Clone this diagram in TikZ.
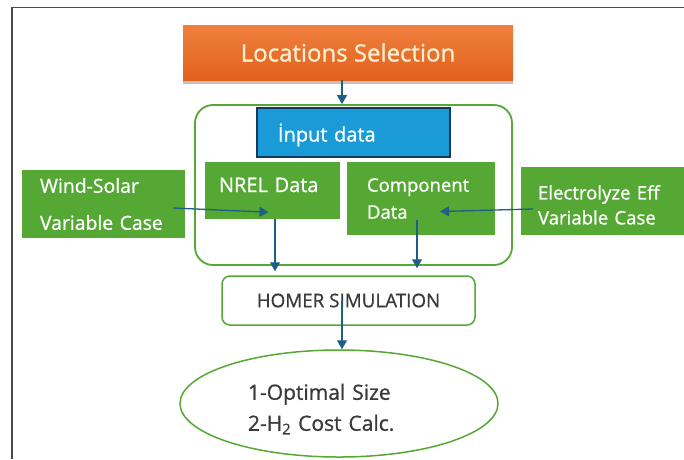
\documentclass[tikz,border=0pt]{standalone}
\usepackage{fontspec}
\setmainfont{Open Sans}[FakeBold=0.9]
\usetikzlibrary{arrows.meta,positioning,shapes.geometric,shadows}
\definecolor{loctop}{HTML}{F0803E}
\definecolor{locbot}{HTML}{E1611D}
\definecolor{loctext}{HTML}{FFF0D2}
\definecolor{inpcol}{HTML}{1A9BD7}
\definecolor{inpline}{HTML}{123A5A}
\definecolor{grcol}{HTML}{55A834}
\definecolor{arrcol}{HTML}{1F5F86}
\definecolor{txtcol}{HTML}{3A3A3A}
\definecolor{framecol}{HTML}{4A4A4A}

\begin{document}
\begin{tikzpicture}[
  x=1pt, y=-1pt,
  >={Triangle[width=10pt,length=9pt]},
  box/.style={rectangle, inner sep=0pt, align=left},
  gbox/.style={box, fill=grcol, text=white},
  arr/.style={->, line width=1.3pt, draw=arrcol}
]
\useasboundingbox (0,0) rectangle (684,459);
\draw[framecol, line width=1.5pt] (12,459) -- (12,7.5) -- (684,7.5);

\node[box, align=center, minimum width=330pt, minimum height=55pt,
      top color=loctop, bottom color=locbot, text=loctext,
      drop shadow={shadow xshift=0pt, shadow yshift=-4pt, opacity=0.35, fill=black!70},
      font=\fontsize{24}{28}\selectfont] (loc) at (348,52.5) {Locations Selection};

\node[draw=grcol, line width=1.8pt, rounded corners=18pt,
      minimum width=317pt, minimum height=160pt] (cont) at (353.5,185) {};

\node[box, fill=inpcol, draw=inpline, line width=1.5pt, text=white,
      text width=151pt, inner xsep=21pt, minimum height=49pt,
      text height=22pt, text depth=4pt,
      font=\fontsize{20}{24}\selectfont] (inp) at (353.5,132.5) {İnput data};

\node[gbox, text width=107pt, inner xsep=14pt, minimum height=57pt,
      text height=14pt, text depth=11pt,
      font=\fontsize{20}{24}\selectfont] (nrel) at (272.5,190.5) {NREL Data};
\node[gbox, text width=108pt, inner xsep=20pt, minimum height=73pt,
      font=\fontsize{18.5}{27}\selectfont] (comp) at (421,198.5) {Component\\Data};

\node[gbox, text width=127pt, inner xsep=18pt, minimum height=68pt,
      font=\fontsize{19.4}{37}\selectfont] (wind) at (103.5,204) {Wind-Solar\\Variable Case};
\node[gbox, text width=129pt, inner xsep=17pt, minimum height=68pt,
      text height=22pt,
      font=\fontsize{18.6}{25}\selectfont] (elec) at (602.5,201) {Electrolyze Eff\\Variable Case};

\node[draw=grcol, line width=1.5pt, rounded corners=8pt, text=txtcol,
      minimum width=253pt, minimum height=49pt,
      font=\fontsize{18.8}{22}\selectfont] (homer) at (348.5,300.5) {HOMER SIMULATION};

\node[ellipse, draw=grcol, line width=1.5pt, text=txtcol, inner sep=0pt,
      text width=182pt, align=left, minimum width=318pt, minimum height=107pt,
      text height=27pt,
      font=\fontsize{21}{31}\selectfont] (res) at (339,403.5)
      {1-Optimal Size\\2-H\textsubscript{2} Cost Calc.};

\draw[arr] ([xshift=-6pt]loc.south) -- ([xshift=-6pt]loc.south |- cont.north);
\draw[arr] ([xshift=-12pt,yshift=-4pt]wind.east) -- ([xshift=-4pt,yshift=7pt]nrel.south);
\draw[arr] ([xshift=12pt,yshift=-8pt]elec.west) -- ([xshift=19pt,yshift=-13pt]comp.center);
\draw[arr, shorten >=4pt] ([xshift=2.5pt]nrel.south) -- ([xshift=2.5pt]nrel.south |- homer.north);
\draw[arr, shorten >=7pt] ([xshift=-4pt,yshift=15pt]comp.south) -- ([xshift=-4pt]comp.south |- homer.north);
\draw[arr] ([xshift=-6.5pt]homer.center) -- ([xshift=-6.5pt]homer.center |- res.north);
\end{tikzpicture}
\end{document}
